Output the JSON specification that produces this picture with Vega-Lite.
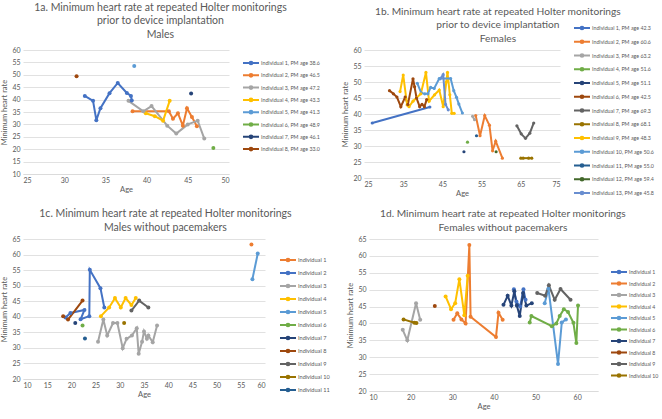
{
 "$schema": "https://vega.github.io/schema/vega-lite/v6.json",
 "padding": {"left": 0, "top": 2, "right": 0, "bottom": 0},
 "background": "white",
 "datasets": {
  "a": [
   {"s": "Individual 1, PM age 38.6", "o": 1, "x": 32.5, "y": 41.5},
   {"s": "Individual 1, PM age 38.6", "o": 2, "x": 33.5, "y": 39.5},
   {"s": "Individual 1, PM age 38.6", "o": 3, "x": 33.9, "y": 31.7},
   {"s": "Individual 1, PM age 38.6", "o": 4, "x": 34.4, "y": 36.5},
   {"s": "Individual 1, PM age 38.6", "o": 5, "x": 35.5, "y": 42.6},
   {"s": "Individual 1, PM age 38.6", "o": 6, "x": 36.5, "y": 46.7},
   {"s": "Individual 1, PM age 38.6", "o": 7, "x": 37.6, "y": 42.7},
   {"s": "Individual 1, PM age 38.6", "o": 8, "x": 38.1, "y": 41.5},
   {"s": "Individual 1, PM age 38.6", "o": 9, "x": 38.2, "y": 39.6},
   {"s": "Individual 2, PM age 46.5", "o": 1, "x": 38.3, "y": 35.3},
   {"s": "Individual 2, PM age 46.5", "o": 2, "x": 42.7, "y": 35.3},
   {"s": "Individual 2, PM age 46.5", "o": 3, "x": 43.2, "y": 32.3},
   {"s": "Individual 2, PM age 46.5", "o": 4, "x": 43.8, "y": 34.5},
   {"s": "Individual 2, PM age 46.5", "o": 5, "x": 44.4, "y": 29.5},
   {"s": "Individual 2, PM age 46.5", "o": 6, "x": 44.9, "y": 36.5},
   {"s": "Individual 2, PM age 46.5", "o": 7, "x": 45.5, "y": 33.0},
   {"s": "Individual 2, PM age 46.5", "o": 8, "x": 46.1, "y": 29.3},
   {"s": "Individual 3, PM age 47.2", "o": 1, "x": 37.8, "y": 39.5},
   {"s": "Individual 3, PM age 47.2", "o": 2, "x": 39.6, "y": 35.3},
   {"s": "Individual 3, PM age 47.2", "o": 3, "x": 40.6, "y": 37.4},
   {"s": "Individual 3, PM age 47.2", "o": 4, "x": 42.5, "y": 29.5},
   {"s": "Individual 3, PM age 47.2", "o": 5, "x": 43.6, "y": 26.3},
   {"s": "Individual 3, PM age 47.2", "o": 6, "x": 45.0, "y": 30.0},
   {"s": "Individual 3, PM age 47.2", "o": 7, "x": 46.2, "y": 31.5},
   {"s": "Individual 3, PM age 47.2", "o": 8, "x": 47.0, "y": 24.3},
   {"s": "Individual 4, PM age 43.3", "o": 1, "x": 39.9, "y": 34.5},
   {"s": "Individual 4, PM age 43.3", "o": 2, "x": 41.0, "y": 33.3},
   {"s": "Individual 4, PM age 43.3", "o": 3, "x": 42.0, "y": 31.5},
   {"s": "Individual 4, PM age 43.3", "o": 4, "x": 42.8, "y": 39.5},
   {"s": "Individual 5, PM age 41.3", "o": 1, "x": 38.5, "y": 53.5},
   {"s": "Individual 6, PM age 48.9", "o": 1, "x": 48.1, "y": 20.5},
   {"s": "Individual 7, PM age 46.1", "o": 1, "x": 45.4, "y": 42.5},
   {"s": "Individual 8, PM age 33.0", "o": 1, "x": 31.5, "y": 49.4}
  ],
  "b": [
   {"s": "Individual 1, PM age 42.3", "o": 1, "x": 27.1, "y": 37.2},
   {"s": "Individual 1, PM age 42.3", "o": 2, "x": 41.8, "y": 42.2},
   {"s": "Individual 2, PM age 60.6", "o": 1, "x": 53.5, "y": 39.5},
   {"s": "Individual 2, PM age 60.6", "o": 2, "x": 54.6, "y": 33.2},
   {"s": "Individual 2, PM age 60.6", "o": 3, "x": 55.8, "y": 39.5},
   {"s": "Individual 2, PM age 60.6", "o": 4, "x": 57.0, "y": 36.5},
   {"s": "Individual 2, PM age 60.6", "o": 5, "x": 57.8, "y": 28.5},
   {"s": "Individual 2, PM age 60.6", "o": 6, "x": 58.6, "y": 31.5},
   {"s": "Individual 2, PM age 60.6", "o": 7, "x": 60.3, "y": 26.2},
   {"s": "Individual 3, PM age 63.2", "o": 1, "x": 52.7, "y": 39.3},
   {"s": "Individual 3, PM age 63.2", "o": 2, "x": 53.2, "y": 38.2},
   {"s": "Individual 4, PM age 51.6", "o": 1, "x": 51.4, "y": 31.2},
   {"s": "Individual 5, PM age 51.1", "o": 1, "x": 50.5, "y": 28.2},
   {"s": "Individual 6, PM age 42.5", "o": 1, "x": 31.5, "y": 47.3},
   {"s": "Individual 6, PM age 42.5", "o": 2, "x": 32.5, "y": 46.3},
   {"s": "Individual 6, PM age 42.5", "o": 3, "x": 33.4, "y": 45.3},
   {"s": "Individual 6, PM age 42.5", "o": 4, "x": 34.4, "y": 42.3},
   {"s": "Individual 6, PM age 42.5", "o": 5, "x": 35.5, "y": 45.3},
   {"s": "Individual 6, PM age 42.5", "o": 6, "x": 36.2, "y": 43.0},
   {"s": "Individual 6, PM age 42.5", "o": 7, "x": 37.5, "y": 51.0},
   {"s": "Individual 6, PM age 42.5", "o": 8, "x": 37.9, "y": 48.5},
   {"s": "Individual 6, PM age 42.5", "o": 9, "x": 38.4, "y": 45.0},
   {"s": "Individual 6, PM age 42.5", "o": 10, "x": 39.2, "y": 42.3},
   {"s": "Individual 6, PM age 42.5", "o": 11, "x": 39.8, "y": 43.0},
   {"s": "Individual 6, PM age 42.5", "o": 12, "x": 40.4, "y": 42.3},
   {"s": "Individual 6, PM age 42.5", "o": 13, "x": 41.0, "y": 44.5},
   {"s": "Individual 7, PM age 69.3", "o": 1, "x": 64.0, "y": 36.3},
   {"s": "Individual 7, PM age 69.3", "o": 2, "x": 65.1, "y": 33.8},
   {"s": "Individual 7, PM age 69.3", "o": 3, "x": 66.2, "y": 32.4},
   {"s": "Individual 7, PM age 69.3", "o": 4, "x": 67.3, "y": 34.0},
   {"s": "Individual 7, PM age 69.3", "o": 5, "x": 68.3, "y": 37.2},
   {"s": "Individual 8, PM age 68.1", "o": 1, "x": 65.0, "y": 26.2},
   {"s": "Individual 8, PM age 68.1", "o": 2, "x": 65.6, "y": 26.2},
   {"s": "Individual 8, PM age 68.1", "o": 3, "x": 67.0, "y": 26.2},
   {"s": "Individual 8, PM age 68.1", "o": 4, "x": 67.8, "y": 26.2},
   {"s": "Individual 9, PM age 48.3", "o": 1, "x": 34.2, "y": 47.0},
   {"s": "Individual 9, PM age 48.3", "o": 2, "x": 35.0, "y": 52.2},
   {"s": "Individual 9, PM age 48.3", "o": 3, "x": 36.0, "y": 42.8},
   {"s": "Individual 9, PM age 48.3", "o": 4, "x": 36.5, "y": 42.3},
   {"s": "Individual 9, PM age 48.3", "o": 5, "x": 37.5, "y": 44.0},
   {"s": "Individual 9, PM age 48.3", "o": 6, "x": 39.5, "y": 46.3},
   {"s": "Individual 9, PM age 48.3", "o": 7, "x": 40.8, "y": 53.0},
   {"s": "Individual 9, PM age 48.3", "o": 8, "x": 41.6, "y": 44.0},
   {"s": "Individual 9, PM age 48.3", "o": 9, "x": 43.0, "y": 46.0},
   {"s": "Individual 9, PM age 48.3", "o": 10, "x": 44.2, "y": 47.5},
   {"s": "Individual 9, PM age 48.3", "o": 11, "x": 45.2, "y": 42.3},
   {"s": "Individual 9, PM age 48.3", "o": 12, "x": 46.0, "y": 50.0},
   {"s": "Individual 9, PM age 48.3", "o": 13, "x": 46.3, "y": 53.0},
   {"s": "Individual 9, PM age 48.3", "o": 14, "x": 46.9, "y": 46.0},
   {"s": "Individual 9, PM age 48.3", "o": 15, "x": 47.4, "y": 40.2},
   {"s": "Individual 9, PM age 48.3", "o": 16, "x": 48.0, "y": 40.2},
   {"s": "Individual 10, PM age 50.6", "o": 1, "x": 38.6, "y": 49.6},
   {"s": "Individual 10, PM age 50.6", "o": 2, "x": 39.6, "y": 46.6},
   {"s": "Individual 10, PM age 50.6", "o": 3, "x": 40.5, "y": 46.3},
   {"s": "Individual 10, PM age 50.6", "o": 4, "x": 41.3, "y": 46.3},
   {"s": "Individual 10, PM age 50.6", "o": 5, "x": 42.0, "y": 48.3},
   {"s": "Individual 10, PM age 50.6", "o": 6, "x": 42.9, "y": 48.0},
   {"s": "Individual 10, PM age 50.6", "o": 7, "x": 44.2, "y": 51.1},
   {"s": "Individual 10, PM age 50.6", "o": 8, "x": 47.1, "y": 51.1},
   {"s": "Individual 10, PM age 50.6", "o": 9, "x": 47.9, "y": 47.3},
   {"s": "Individual 10, PM age 50.6", "o": 10, "x": 48.6, "y": 45.2},
   {"s": "Individual 10, PM age 50.6", "o": 11, "x": 49.2, "y": 43.1},
   {"s": "Individual 10, PM age 50.6", "o": 12, "x": 50.1, "y": 40.3},
   {"s": "Individual 11, PM age 55.0", "o": 1, "x": 53.7, "y": 33.2},
   {"s": "Individual 12, PM age 59.4", "o": 1, "x": 58.7, "y": 28.2},
   {"s": "Individual 13, PM age 45.8", "o": 1, "x": 44.4, "y": 51.0},
   {"s": "Individual 13, PM age 45.8", "o": 2, "x": 45.2, "y": 52.3},
   {"s": "Individual 13, PM age 45.8", "o": 3, "x": 45.8, "y": 43.0},
   {"s": "Individual 13, PM age 45.8", "o": 4, "x": 46.5, "y": 41.3}
  ],
  "c": [
   {"s": "Individual 1", "o": 1, "x": 57.2, "y": 63.2},
   {"s": "Individual 2", "o": 1, "x": 18.8, "y": 39.8},
   {"s": "Individual 2", "o": 2, "x": 19.8, "y": 41.2},
   {"s": "Individual 2", "o": 3, "x": 22.7, "y": 42.2},
   {"s": "Individual 2", "o": 4, "x": 21.9, "y": 39.2},
   {"s": "Individual 2", "o": 5, "x": 23.7, "y": 40.2},
   {"s": "Individual 2", "o": 6, "x": 23.8, "y": 55.1},
   {"s": "Individual 2", "o": 7, "x": 26.0, "y": 49.2},
   {"s": "Individual 2", "o": 8, "x": 26.8, "y": 43.0},
   {"s": "Individual 3", "o": 1, "x": 25.5, "y": 32.0},
   {"s": "Individual 3", "o": 2, "x": 26.6, "y": 39.1},
   {"s": "Individual 3", "o": 3, "x": 27.4, "y": 34.0},
   {"s": "Individual 3", "o": 4, "x": 28.6, "y": 38.0},
   {"s": "Individual 3", "o": 5, "x": 29.5, "y": 38.0},
   {"s": "Individual 3", "o": 6, "x": 30.6, "y": 29.9},
   {"s": "Individual 3", "o": 7, "x": 31.4, "y": 32.9},
   {"s": "Individual 3", "o": 8, "x": 32.5, "y": 34.0},
   {"s": "Individual 3", "o": 9, "x": 33.5, "y": 36.3},
   {"s": "Individual 3", "o": 10, "x": 33.9, "y": 28.1},
   {"s": "Individual 3", "o": 11, "x": 34.6, "y": 32.0},
   {"s": "Individual 3", "o": 12, "x": 35.0, "y": 35.3},
   {"s": "Individual 3", "o": 13, "x": 35.6, "y": 32.9},
   {"s": "Individual 3", "o": 14, "x": 35.9, "y": 34.0},
   {"s": "Individual 3", "o": 15, "x": 36.8, "y": 31.8},
   {"s": "Individual 3", "o": 16, "x": 37.7, "y": 37.2},
   {"s": "Individual 4", "o": 1, "x": 26.1, "y": 40.2},
   {"s": "Individual 4", "o": 2, "x": 27.8, "y": 43.0},
   {"s": "Individual 4", "o": 3, "x": 29.0, "y": 46.0},
   {"s": "Individual 4", "o": 4, "x": 30.2, "y": 43.0},
   {"s": "Individual 4", "o": 5, "x": 31.2, "y": 46.0},
   {"s": "Individual 4", "o": 6, "x": 32.4, "y": 43.8},
   {"s": "Individual 4", "o": 7, "x": 33.3, "y": 46.0},
   {"s": "Individual 5", "o": 1, "x": 57.4, "y": 52.1},
   {"s": "Individual 5", "o": 2, "x": 58.5, "y": 60.3},
   {"s": "Individual 6", "o": 1, "x": 22.3, "y": 37.2},
   {"s": "Individual 7", "o": 1, "x": 20.8, "y": 38.0},
   {"s": "Individual 8", "o": 1, "x": 18.3, "y": 40.2},
   {"s": "Individual 8", "o": 2, "x": 19.3, "y": 39.1},
   {"s": "Individual 8", "o": 3, "x": 22.3, "y": 45.2},
   {"s": "Individual 9", "o": 1, "x": 32.4, "y": 42.0},
   {"s": "Individual 9", "o": 2, "x": 34.0, "y": 45.2},
   {"s": "Individual 9", "o": 3, "x": 35.9, "y": 43.0},
   {"s": "Individual 10", "o": 1, "x": 30.9, "y": 38.0},
   {"s": "Individual 11", "o": 1, "x": 22.8, "y": 33.0}
  ],
  "d": [
   {"s": "Individual 1", "o": 1, "x": 44.8, "y": 50.1},
   {"s": "Individual 1", "o": 2, "x": 45.4, "y": 46.5},
   {"s": "Individual 1", "o": 3, "x": 46.3, "y": 45.0},
   {"s": "Individual 1", "o": 4, "x": 47.1, "y": 50.1},
   {"s": "Individual 1", "o": 5, "x": 47.6, "y": 47.0},
   {"s": "Individual 2", "o": 1, "x": 30.3, "y": 41.1},
   {"s": "Individual 2", "o": 2, "x": 31.2, "y": 43.0},
   {"s": "Individual 2", "o": 3, "x": 32.2, "y": 41.2},
   {"s": "Individual 2", "o": 4, "x": 33.2, "y": 40.0},
   {"s": "Individual 2", "o": 5, "x": 34.1, "y": 63.2},
   {"s": "Individual 2", "o": 6, "x": 34.4, "y": 42.0},
   {"s": "Individual 2", "o": 7, "x": 40.5, "y": 36.0},
   {"s": "Individual 2", "o": 8, "x": 41.1, "y": 43.2},
   {"s": "Individual 2", "o": 9, "x": 42.1, "y": 41.1},
   {"s": "Individual 3", "o": 1, "x": 18.1, "y": 38.1},
   {"s": "Individual 3", "o": 2, "x": 19.2, "y": 35.0},
   {"s": "Individual 3", "o": 3, "x": 21.3, "y": 46.0},
   {"s": "Individual 3", "o": 4, "x": 22.3, "y": 41.1},
   {"s": "Individual 4", "o": 1, "x": 28.4, "y": 48.0},
   {"s": "Individual 4", "o": 2, "x": 29.7, "y": 44.2},
   {"s": "Individual 4", "o": 3, "x": 30.7, "y": 46.0},
   {"s": "Individual 4", "o": 4, "x": 31.7, "y": 53.1},
   {"s": "Individual 4", "o": 5, "x": 32.9, "y": 42.4},
   {"s": "Individual 4", "o": 6, "x": 33.7, "y": 54.1},
   {"s": "Individual 5", "o": 1, "x": 52.2, "y": 46.0},
   {"s": "Individual 5", "o": 2, "x": 53.1, "y": 50.3},
   {"s": "Individual 5", "o": 3, "x": 55.4, "y": 28.0},
   {"s": "Individual 5", "o": 4, "x": 56.3, "y": 40.3},
   {"s": "Individual 5", "o": 5, "x": 57.3, "y": 41.2},
   {"s": "Individual 6", "o": 1, "x": 48.6, "y": 40.3},
   {"s": "Individual 6", "o": 2, "x": 49.0, "y": 42.2},
   {"s": "Individual 6", "o": 3, "x": 53.9, "y": 39.2},
   {"s": "Individual 6", "o": 4, "x": 55.0, "y": 40.0},
   {"s": "Individual 6", "o": 5, "x": 55.8, "y": 42.2},
   {"s": "Individual 6", "o": 6, "x": 56.8, "y": 44.2},
   {"s": "Individual 6", "o": 7, "x": 57.8, "y": 43.4},
   {"s": "Individual 6", "o": 8, "x": 59.1, "y": 40.2},
   {"s": "Individual 6", "o": 9, "x": 59.8, "y": 34.2},
   {"s": "Individual 6", "o": 10, "x": 60.2, "y": 45.3},
   {"s": "Individual 7", "o": 1, "x": 42.3, "y": 45.5},
   {"s": "Individual 7", "o": 2, "x": 43.3, "y": 48.2},
   {"s": "Individual 7", "o": 3, "x": 44.2, "y": 45.3},
   {"s": "Individual 7", "o": 4, "x": 44.9, "y": 49.5},
   {"s": "Individual 7", "o": 5, "x": 45.5, "y": 45.3},
   {"s": "Individual 7", "o": 6, "x": 46.2, "y": 42.2},
   {"s": "Individual 7", "o": 7, "x": 47.0, "y": 49.0},
   {"s": "Individual 7", "o": 8, "x": 47.8, "y": 45.3},
   {"s": "Individual 7", "o": 9, "x": 49.1, "y": 46.0},
   {"s": "Individual 8", "o": 1, "x": 25.8, "y": 45.2},
   {"s": "Individual 9", "o": 1, "x": 50.4, "y": 49.0},
   {"s": "Individual 9", "o": 2, "x": 52.3, "y": 48.2},
   {"s": "Individual 9", "o": 3, "x": 53.2, "y": 51.3},
   {"s": "Individual 9", "o": 4, "x": 54.6, "y": 47.0},
   {"s": "Individual 9", "o": 5, "x": 56.0, "y": 50.2},
   {"s": "Individual 9", "o": 6, "x": 58.4, "y": 47.0},
   {"s": "Individual 10", "o": 1, "x": 18.3, "y": 41.2},
   {"s": "Individual 10", "o": 2, "x": 20.9, "y": 40.2},
   {"s": "Individual 10", "o": 3, "x": 21.4, "y": 40.1}
  ]
 },
 "resolve": {"scale": {"color": "independent"}, "legend": {"color": "independent"}},
 "spacing": 10,
 "vconcat": [
  {
   "resolve": {"scale": {"color": "independent"}, "legend": {"color": "independent"}},
   "spacing": 21,
   "hconcat": [
    {
     "data": {"name": "a"},
     "width": 206, "height": 124,
     "title": {"text": ["1a. Minimum heart rate at repeated Holter monitorings", "prior to device implantation", "Males"], "offset": 6, "fontSize": 10.5},
     "mark": {"type": "line", "strokeWidth": 2, "point": {"size": 16, "filled": true}},
     "encoding": {
      "x": {"field": "x", "type": "quantitative", "scale": {"domain": [25, 50], "nice": false, "zero": false}, "axis": {"values": [25, 30, 35, 40, 45, 50], "title": "Age"}},
      "y": {"field": "y", "type": "quantitative", "scale": {"domain": [10, 60], "nice": false, "zero": false}, "axis": {"values": [10, 15, 20, 25, 30, 35, 40, 45, 50, 55, 60], "title": "Minimum heart rate"}},
      "color": {"field": "s", "type": "nominal",
       "scale": {"domain": ["Individual 1, PM age 38.6", "Individual 2, PM age 46.5", "Individual 3, PM age 47.2", "Individual 4, PM age 43.3", "Individual 5, PM age 41.3", "Individual 6, PM age 48.9", "Individual 7, PM age 46.1", "Individual 8, PM age 33.0"],
        "range": ["#4472C4", "#ED7D31", "#A5A5A5", "#FFC000", "#5B9BD5", "#70AD47", "#264478", "#9E480E"]},
       "legend": {"title": null, "orient": "none", "legendX": 224, "legendY": 9, "rowPadding": 0.3, "labelFontSize": 5.3}},
      "order": {"field": "o", "type": "quantitative"}
     }
    },
    {
     "data": {"name": "b"},
     "width": 196, "height": 128,
     "title": {"text": ["1b. Minimum heart rate at repeated Holter monitorings", "prior to device implantation", "Females"], "offset": -20, "fontSize": 10.2},
     "mark": {"type": "line", "strokeWidth": 2, "point": {"size": 10, "filled": true}},
     "encoding": {
      "x": {"field": "x", "type": "quantitative", "scale": {"domain": [25, 75], "nice": false, "zero": false}, "axis": {"values": [25, 35, 45, 55, 65, 75], "title": "Age"}},
      "y": {"field": "y", "type": "quantitative", "scale": {"domain": [20, 60], "nice": false, "zero": false}, "axis": {"values": [20, 25, 30, 35, 40, 45, 50, 55, 60], "title": "Minimum heart rate"}},
      "color": {"field": "s", "type": "nominal",
       "scale": {"domain": ["Individual 1, PM age 42.3", "Individual 2, PM age 60.6", "Individual 3, PM age 63.2", "Individual 4, PM age 51.6", "Individual 5, PM age 51.1", "Individual 6, PM age 42.5", "Individual 7, PM age 69.3", "Individual 8, PM age 68.1", "Individual 9, PM age 48.3", "Individual 10, PM age 50.6", "Individual 11, PM age 55.0", "Individual 12, PM age 59.4", "Individual 13, PM age 45.8"],
        "range": ["#4472C4", "#ED7D31", "#A5A5A5", "#70AD47", "#264478", "#9E480E", "#636363", "#997300", "#FFC000", "#5B9BD5", "#255E91", "#43682B", "#698ED0"]},
       "legend": {"title": null, "orient": "none", "legendX": 214, "legendY": -26, "rowPadding": 1.75, "labelFontSize": 5.3}},
      "order": {"field": "o", "type": "quantitative"}
     }
    }
   ]
  },
  {
   "resolve": {"scale": {"color": "independent"}, "legend": {"color": "independent"}},
   "spacing": 16,
   "hconcat": [
    {
     "data": {"name": "c"},
     "width": 242, "height": 140,
     "title": {"text": ["1c. Minimum heart rate at repeated Holter monitorings", "Males without pacemakers"], "offset": 2, "fontSize": 10.5},
     "mark": {"type": "line", "strokeWidth": 2, "point": {"size": 16, "filled": true}},
     "encoding": {
      "x": {"field": "x", "type": "quantitative", "scale": {"domain": [10, 60], "nice": false, "zero": false}, "axis": {"values": [10, 15, 20, 25, 30, 35, 40, 45, 50, 55, 60], "title": "Age"}},
      "y": {"field": "y", "type": "quantitative", "scale": {"domain": [20, 65], "nice": false, "zero": false}, "axis": {"values": [20, 25, 30, 35, 40, 45, 50, 55, 60, 65], "title": "Minimum heart rate"}},
      "color": {"field": "s", "type": "nominal",
       "scale": {"domain": ["Individual 1", "Individual 2", "Individual 3", "Individual 4", "Individual 5", "Individual 6", "Individual 7", "Individual 8", "Individual 9", "Individual 10", "Individual 11"],
        "range": ["#ED7D31", "#4472C4", "#A5A5A5", "#FFC000", "#5B9BD5", "#70AD47", "#264478", "#9E480E", "#636363", "#997300", "#255E91"]},
       "legend": {"title": null, "orient": "none", "legendX": 261, "legendY": 17, "rowPadding": 1, "labelFontSize": 5.6}},
      "order": {"field": "o", "type": "quantitative"}
     }
    },
    {
     "data": {"name": "d"},
     "width": 229, "height": 152,
     "title": {"text": ["1d. Minimum heart rate at repeated Holter monitorings", "Females without pacemakers"], "offset": 2, "fontSize": 10.2},
     "mark": {"type": "line", "strokeWidth": 2, "point": {"size": 16, "filled": true}},
     "encoding": {
      "x": {"field": "x", "type": "quantitative", "scale": {"domain": [10, 65], "nice": false, "zero": false}, "axis": {"values": [10, 20, 30, 40, 50, 60], "title": "Age"}},
      "y": {"field": "y", "type": "quantitative", "scale": {"domain": [20, 65], "nice": false, "zero": false}, "axis": {"values": [20, 25, 30, 35, 40, 45, 50, 55, 60, 65], "title": "Minimum heart rate"}},
      "color": {"field": "s", "type": "nominal",
       "scale": {"domain": ["Individual 1", "Individual 2", "Individual 3", "Individual 4", "Individual 5", "Individual 6", "Individual 7", "Individual 8", "Individual 9", "Individual 10"],
        "range": ["#4472C4", "#ED7D31", "#A5A5A5", "#FFC000", "#5B9BD5", "#70AD47", "#264478", "#9E480E", "#636363", "#997300"]},
       "legend": {"title": null, "orient": "none", "legendX": 246, "legendY": 29, "rowPadding": -0.5, "labelFontSize": 5.2}},
      "order": {"field": "o", "type": "quantitative"}
     }
    }
   ]
  }
 ],
 "config": {
  "font": "Lato",
  "view": {"stroke": null},
  "title": {"fontSize": 10.5, "fontWeight": "normal", "color": "#595959", "lineHeight": 13.5, "anchor": "middle", "frame": "bounds"},
  "axis": {"labelColor": "#595959", "titleColor": "#595959", "labelFontSize": 7, "titleFontSize": 7.5, "titleFontWeight": "normal", "ticks": false, "domain": false, "gridColor": "#d9d9d9", "gridWidth": 0.8, "labelPadding": 3, "titlePadding": 3},
  "axisX": {"grid": false, "domain": true, "domainColor": "#d9d9d9", "domainWidth": 0.8, "labelPadding": 2, "titlePadding": 2},
  "legend": {"labelColor": "#595959", "symbolType": "M-2.67,0L2.67,0M-0.45,0A0.45,0.45,0,1,1,0.45,0A0.45,0.45,0,1,1,-0.45,0", "symbolSize": 36, "symbolStrokeWidth": 2, "labelOffset": 6, "labelLimit": 200}
 }
}
